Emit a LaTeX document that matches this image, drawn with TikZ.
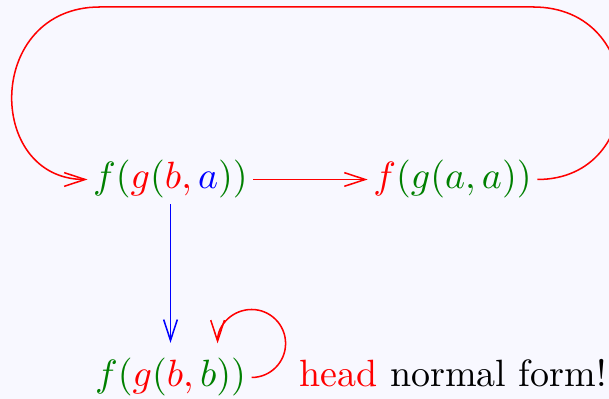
\documentclass[tikz,border=0pt]{standalone}
\usetikzlibrary{arrows.meta}
\definecolor{bgc}{HTML}{F8F8FF}
\definecolor{tgreen}{RGB}{0,128,0}
\newcommand{\rc}{\mathpunct{\textcolor{red}{,}}}
\tikzset{
  term/.style={inner sep=1.3pt, anchor=base, text=tgreen},
  redarr/.style={draw=red, line width=0.4pt, -{Straight Barb[length=5.5pt,width=3.6pt,line width=0.4pt]}},
  bluearr/.style={draw=blue, line width=0.4pt, -{Straight Barb[length=5.5pt,width=3.6pt,line width=0.4pt]}}
}
\begin{document}
\begin{tikzpicture}[x=0.2632pt,y=0.2632pt]
\fill[bgc] (0,0) rectangle (609,399);
\useasboundingbox (0,0) rectangle (609,399);
\clip (0,0) rectangle (609,399);
\node[term] (ba) at (170.5,210) {$f(\textcolor{red}{g}(\textcolor{red}{b}\rc\textcolor{blue}{a}))$};
\node[term] (aa) at (452.5,210) {$\textcolor{red}{f}(g(a,a))$};
\node[term] (bb) at (170.5,12) {$f(\textcolor{red}{g}(\textcolor{red}{b}\rc b))$};
\node[inner sep=1.3pt, anchor=base] (hnf) at (453,12) {\textcolor{red}{head} normal form!};
\draw[redarr] (ba.east) -- (aa.west);
\draw[redarr] (aa.east) .. controls (649,219.5) and (649,392) .. (533,392) -- (100,392) .. controls (-15,392) and (-15,219.5) .. (ba.west);
\draw[bluearr, shorten >=2.6pt] (ba.south) -- (bb.north);
\draw[redarr] (bb.east) arc[start angle=-90, end angle=180, radius=34];
\end{tikzpicture}
\end{document}
